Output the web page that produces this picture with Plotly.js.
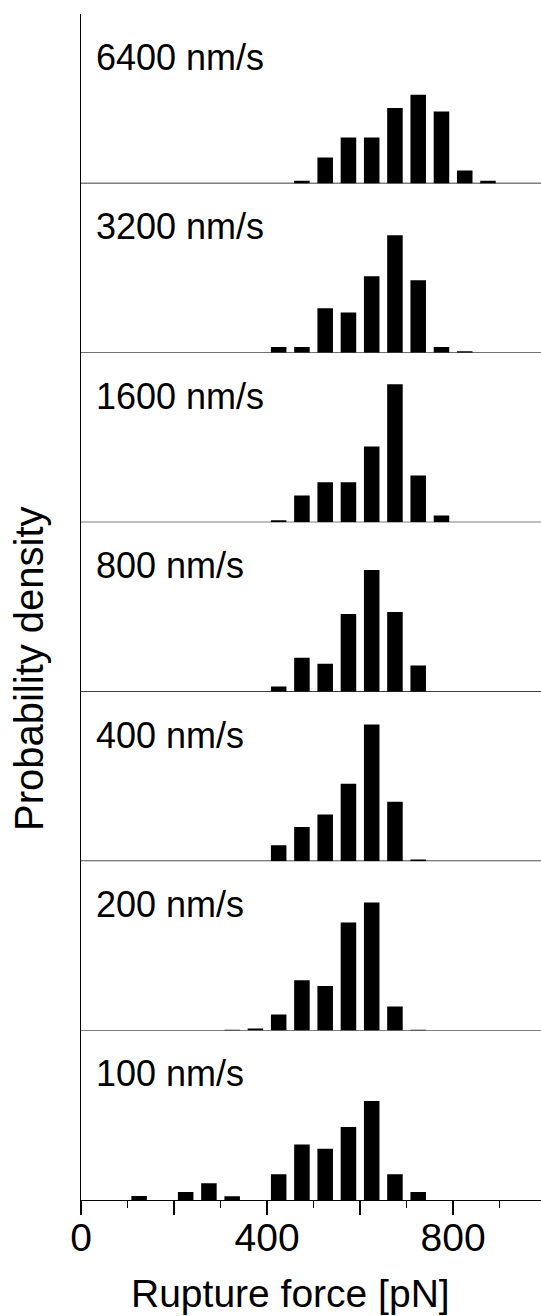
<!DOCTYPE html>
<html>
<head>
<meta charset="utf-8">
<script src="https://cdn.plot.ly/plotly-3.0.1.min.js"></script>
<style>html,body{margin:0;padding:0;background:#fff;}#chart{width:541px;height:1316px;}</style>
</head>
<body>
<div id="chart"></div>
<script>
// Panel labels (pulling speeds), top to bottom
const speeds = ["6400 nm/s", "3200 nm/s", "1600 nm/s", "800 nm/s", "400 nm/s", "200 nm/s", "100 nm/s"];

// Bin centres [pN] and probability densities [10^-3 pN^-1]
const force6400 = [475, 525, 575, 625, 675, 725, 775, 825, 875];
const dens6400  = [0.15, 1.40, 2.47, 2.47, 4.05, 4.77, 3.87, 0.70, 0.15];

const force3200 = [425, 475, 525, 575, 625, 675, 725, 775, 825];
const dens3200  = [0.32, 0.32, 2.40, 2.17, 4.12, 6.33, 3.91, 0.32, 0.09];

const force1600 = [425, 475, 525, 575, 625, 675, 725, 775];
const dens1600  = [0.11, 1.44, 2.15, 2.15, 4.07, 7.42, 2.51, 0.36];

const force800 = [425, 475, 525, 575, 625, 675, 725];
const dens800  = [0.28, 1.83, 1.51, 4.18, 6.54, 4.28, 1.41];

const force400 = [425, 475, 525, 575, 625, 675, 725];
const dens400  = [0.86, 1.83, 2.51, 4.16, 7.35, 3.19, 0.09];

const force200 = [325, 375, 425, 475, 525, 575, 625, 675, 725];
const dens200  = [0.04, 0.11, 0.86, 2.70, 2.40, 5.81, 6.88, 1.29, 0.04];

const force100 = [125, 225, 275, 325, 425, 475, 525, 575, 625, 675, 725];
const dens100  = [0.22, 0.43, 0.90, 0.20, 1.38, 2.99, 2.76, 3.92, 5.32, 1.38, 0.43];

// x-axis ticks
const majorTicks = [0, 200, 400, 600, 800];
const majorLabels = ["0", "", "400", "", "800"];

const xTitle = "Rupture force [pN]";
const yTitle = "Probability density";

const panels = [
  [force6400, dens6400], [force3200, dens3200], [force1600, dens1600],
  [force800, dens800], [force400, dens400], [force200, dens200], [force100, dens100]
];

const FONT = '"Liberation Sans", Arial, Helvetica, sans-serif';
const N = panels.length;
const YMAX = 9.11;
const traces = [];
const shapes = [];
const annotations = [];
const layout = {
  width: 541, height: 1316,
  margin: {l: 81, r: 0, t: 14, b: 116},
  paper_bgcolor: '#fff', plot_bgcolor: '#fff',
  showlegend: false,
  font: {family: FONT, color: '#000'},
  xaxis: {
    range: [0, 989], anchor: 'y',
    showline: true, linecolor: '#000', linewidth: 1.2,
    showgrid: false, zeroline: false,
    tickmode: 'array', tickvals: majorTicks, ticktext: majorLabels,
    ticks: 'outside', ticklen: 14, tickwidth: 1.2, tickcolor: '#000',
    ticklabelstandoff: -11,
    tickfont: {size: 39, family: FONT, color: '#000'},
    minor: {tickmode: 'linear', tick0: 0, dtick: 100, ticks: 'outside', ticklen: 7, tickwidth: 1.2, tickcolor: '#000', showgrid: false}
  }
};

panels.forEach((p, i) => {
  const k = N - i; // bottom panel is y (k=1)
  const yName = k === 1 ? 'y' : 'y' + k;
  const axName = k === 1 ? 'yaxis' : 'yaxis' + k;
  const d0 = (k - 1) / N, d1 = k / N;
  traces.push({
    type: 'bar', x: p[0], y: p[1], xaxis: 'x', yaxis: yName,
    width: 33.4, marker: {color: '#000', line: {width: 0}}, hoverinfo: 'x+y'
  });
  layout[axName] = {
    domain: [d0, d1], range: [0, YMAX], anchor: 'x',
    showline: true, linecolor: '#000', linewidth: 1.2,
    showticklabels: false, ticks: '', showgrid: false, zeroline: false
  };
  if (k > 1) {
    shapes.push({type: 'line', xref: 'paper', x0: 0, x1: 1, yref: yName, y0: 0, y1: 0,
                 line: {color: '#000', width: 1.2}});
  }
  annotations.push({
    text: speeds[i], xref: 'paper', x: 0, xanchor: 'left', xshift: 13,
    yref: yName + ' domain', y: 0.744, yanchor: 'middle', showarrow: false,
    font: {size: 36, family: FONT, color: '#000'}
  });
});

// y-axis title
annotations.push({
  text: yTitle, textangle: -90, xref: 'paper', x: 0, xanchor: 'center', xshift: -52.5,
  yref: 'paper', y: 1 - (668.5 - 14) / 1186, yanchor: 'middle', showarrow: false,
  font: {size: 40, family: FONT, color: '#000'}
});
// x-axis title
annotations.push({
  text: xTitle, xref: 'paper', x: (290 - 81) / 460, xanchor: 'center',
  yref: 'paper', y: 0, yanchor: 'top', yshift: -70,
  showarrow: false,
  font: {size: 39, family: FONT, color: '#000'}
});

layout.shapes = shapes;
layout.annotations = annotations;

Plotly.newPlot('chart', traces, layout, {staticPlot: true, displayModeBar: false});
</script>
</body>
</html>
